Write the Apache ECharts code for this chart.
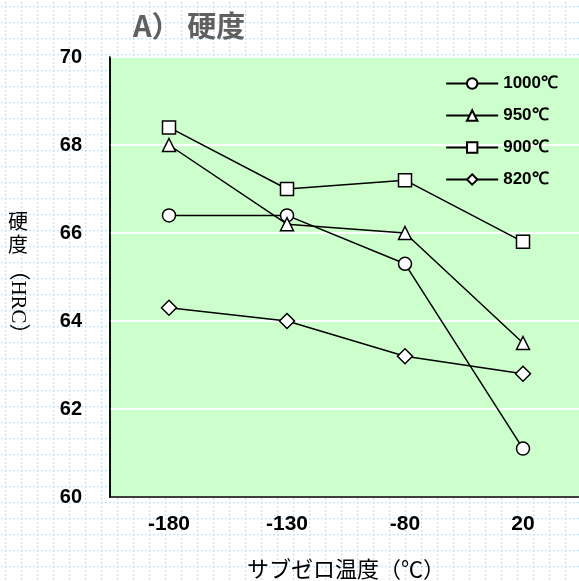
<!DOCTYPE html>
<html>
<head>
<meta charset="utf-8">
<script src="https://cdn.jsdelivr.net/npm/echarts@6/dist/echarts.min.js"></script>
<style>
  html, body { margin: 0; padding: 0; }
  #chart {
    width: 579px;
    height: 581px;
    background-color: #fff;
    background-image: url("data:image/svg+xml;utf8,<svg xmlns='http://www.w3.org/2000/svg' width='16' height='16'><path d='M0.5 0V16M0 0.5H16' stroke='%23bfe3f8' stroke-width='1.5' stroke-dasharray='2 2' fill='none'/></svg>");
    background-position: 5px 6px;
  }
</style>
</head>
<body>
<div id="chart"></div>
<script>
  // サブゼロ温度
  const categories = ["-180", "-130", "-80", "20"];
  const seriesNames = ["1000℃", "950℃", "900℃", "820℃"];
  const hrc1000 = [66.4, 66.4, 65.3, 61.1];
  const hrc950 = [68.0, 66.2, 66.0, 63.5];
  const hrc900 = [68.4, 67.0, 67.2, 65.8];
  const hrc820 = [64.3, 64.0, 63.2, 62.8];
  const symbols = ["circle", "triangle", "rect", "diamond"];

  const chart = echarts.init(document.getElementById("chart"));

  const mkSeries = (name, data, symbol) => ({
    name: name,
    type: "line",
    data: data,
    symbol: symbol,
    symbolSize: symbol === "diamond" ? 15 : 13,
    lineStyle: { color: "#000", width: 1.5 },
    itemStyle: { color: "#fff", borderColor: "#000", borderWidth: 1.5 },
    emphasis: { disabled: true },
  });

  const option = {
    animation: false,
    title: {
      text: "A） 硬度",
      left: 128,
      top: 6,
      textStyle: {
        fontSize: 29,
        fontWeight: "bold",
        color: "#606060",
        fontFamily: "Noto Sans CJK JP",
      },
    },
    legend: {
      orient: "vertical",
      right: 16,
      top: 70,
      itemWidth: 52,
      itemHeight: 13,
      itemGap: 15,
      data: seriesNames,
      textStyle: {
        fontSize: 17,
        fontWeight: "bold",
        color: "#000",
        fontFamily: "Liberation Sans",
      },
    },
    grid: {
      left: 110,
      top: 57,
      bottom: 84,
      right: -3,
      outerBoundsMode: "none",
      containLabel: false,
      show: true,
      backgroundColor: "#ccffcc",
      borderColor: "#000",
      borderWidth: 1.5,
    },
    // 縦軸タイトル（硬度は縦書き、HRCは横倒し）
    graphic: [
      {
        type: "text",
        x: 18,
        y: 210,
        style: {
          text: "硬\n度",
          fontSize: 20,
          lineHeight: 23,
          fontFamily: "Noto Sans CJK JP",
          fill: "#000",
          align: "center",
          verticalAlign: "top",
        },
      },
      {
        type: "text",
        x: 18,
        y: 302,
        rotation: -Math.PI / 2,
        style: {
          text: "（HRC）",
          fontSize: 21,
          fontFamily: "Liberation Serif, Noto Sans CJK JP",
          fill: "#000",
          align: "center",
          verticalAlign: "middle",
        },
      },
    ],
    xAxis: {
      type: "category",
      data: categories,
      name: "サブゼロ温度（℃）",
      nameLocation: "middle",
      nameGap: 61,
      nameTextStyle: {
        fontSize: 22,
        color: "#000",
        fontFamily: "Noto Sans CJK JP",
      },
      axisLine: { lineStyle: { color: "#000", width: 1.5 } },
      axisTick: { inside: true, length: 6, lineStyle: { color: "#000", width: 1 } },
      axisLabel: {
        fontSize: 21,
        fontWeight: "bold",
        color: "#000",
        margin: 17,
        fontFamily: "Liberation Sans",
      },
    },
    yAxis: {
      type: "value",
      min: 60,
      max: 70,
      interval: 2,
      axisLine: { show: true, lineStyle: { color: "#000", width: 1.5 } },
      axisTick: { show: false },
      splitLine: { lineStyle: { color: "#fff", width: 2 } },
      axisLabel: {
        fontSize: 20,
        fontWeight: "bold",
        color: "#000",
        margin: 28,
        fontFamily: "Liberation Sans",
      },
    },
    series: [
      mkSeries(seriesNames[0], hrc1000, symbols[0]),
      mkSeries(seriesNames[1], hrc950, symbols[1]),
      mkSeries(seriesNames[2], hrc900, symbols[2]),
      mkSeries(seriesNames[3], hrc820, symbols[3]),
    ],
  };

  chart.setOption(option);
</script>
</body>
</html>
